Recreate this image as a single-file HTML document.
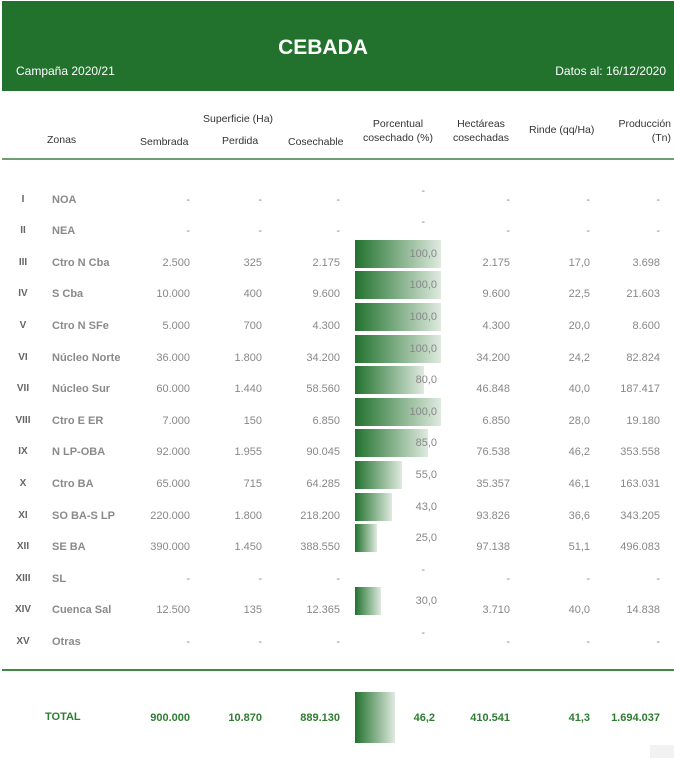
<!DOCTYPE html>
<html><head><meta charset="utf-8"><style>
*{margin:0;padding:0;box-sizing:border-box}
body{width:674px;height:758px;background:#fff;position:relative;overflow:hidden;font-family:"Liberation Sans",Arial,sans-serif;}
.hd{position:absolute;left:2px;top:1px;width:672px;height:90px;background:#22722e;color:#fff}
.t{position:absolute;white-space:nowrap;font-size:11px;color:#888;line-height:12px}
.r{text-align:right}
.c{text-align:center}
.h{color:#333;font-size:10.5px}
.bar{position:absolute;left:355px;height:28px;background:linear-gradient(to right,#22722e,#dfeadf)}
.g{color:#2e7d32;font-weight:bold}
</style></head><body>
<div class="hd">
<div style="position:absolute;left:0;width:642px;top:35px;text-align:center;font-size:21px;font-weight:bold">CEBADA</div>
<div style="position:absolute;left:14px;top:63px;font-size:12px">Campaña 2020/21</div>
<div style="position:absolute;right:8px;top:63px;font-size:12px">Datos al: 16/12/2020</div>
</div>
<div class="t h" style="left:47px;top:134px">Zonas</div>
<div class="t h" style="left:203px;top:113px">Superficie (Ha)</div>
<div class="t h" style="left:140px;top:136px">Sembrada</div>
<div class="t h" style="left:222px;top:135px">Perdida</div>
<div class="t h" style="left:288px;top:136px">Cosechable</div>
<div class="t h c" style="left:355px;width:86px;top:117px;line-height:14px">Porcentual<br>cosechado (%)</div>
<div class="t h c" style="left:448px;width:66px;top:117px;line-height:14px">Hectáreas<br>cosechadas</div>
<div class="t h" style="left:529px;top:124px">Rinde (qq/Ha)</div>
<div class="t h r" style="right:3px;top:117px;line-height:14px">Producción<br>(Tn)</div>
<div style="position:absolute;left:2px;top:158px;width:672px;height:2px;background:#6f9e72"></div>
<div style="position:absolute;left:2px;top:669px;width:672px;height:1.5px;background:#3e8a45"></div>
<div id="rows"></div>
<div class="bar" style="top:692px;height:51px;width:40px"></div>
<div class="t g" style="left:45px;top:711px">TOTAL</div>
<div class="t g r" style="right:484px;top:712px">900.000</div>
<div class="t g r" style="right:412px;top:712px">10.870</div>
<div class="t g r" style="right:334px;top:712px">889.130</div>
<div class="t g r" style="right:239px;top:712px">46,2</div>
<div class="t g r" style="right:164px;top:712px">410.541</div>
<div class="t g r" style="right:84px;top:712px">41,3</div>
<div class="t g r" style="right:14px;top:712px">1.694.037</div>
<div style="position:absolute;left:650px;top:745px;width:24px;height:13px;background:#f2f2f2"></div>
<script>
var d=[["I","NOA","-","-","-",null,"-","-","-"],["II","NEA","-","-","-",null,"-","-","-"],
["III","Ctro N Cba","2.500","325","2.175",100,"2.175","17,0","3.698"],
["IV","S Cba","10.000","400","9.600",100,"9.600","22,5","21.603"],
["V","Ctro N SFe","5.000","700","4.300",100,"4.300","20,0","8.600"],
["VI","Núcleo Norte","36.000","1.800","34.200",100,"34.200","24,2","82.824"],
["VII","Núcleo Sur","60.000","1.440","58.560",80,"46.848","40,0","187.417"],
["VIII","Ctro E ER","7.000","150","6.850",100,"6.850","28,0","19.180"],
["IX","N LP-OBA","92.000","1.955","90.045",85,"76.538","46,2","353.558"],
["X","Ctro BA","65.000","715","64.285",55,"35.357","46,1","163.031"],
["XI","SO BA-S LP","220.000","1.800","218.200",43,"93.826","36,6","343.205"],
["XII","SE BA","390.000","1.450","388.550",25,"97.138","51,1","496.083"],
["XIII","SL","-","-","-",null,"-","-","-"],
["XIV","Cuenca Sal","12.500","135","12.365",30,"3.710","40,0","14.838"],
["XV","Otras","-","-","-",null,"-","-","-"]];
var h="";
d.forEach(function(r,i){var y=199.5+i*31.6;var ty=y-6;
h+='<div class="t c" style="left:8px;width:30px;top:'+ty+'px;color:#666;font-weight:bold;font-size:10px">'+r[0]+'</div>';
h+='<div class="t" style="left:52px;top:'+ty+'px;font-weight:bold;color:#8a8a8a">'+r[1]+'</div>';
var rs=[[484,r[2]],[412,r[3]],[334,r[4]],[164,r[6]],[84,r[7]],[14,r[8]]];
rs.forEach(function(c){h+='<div class="t r" style="right:'+c[0]+'px;top:'+ty+'px">'+c[1]+'</div>';});
if(r[5]!==null){h+='<div class="bar" style="top:'+(y-23)+'px;width:'+(r[5]*0.86)+'px"></div>';
h+='<div class="t r" style="right:237px;top:'+(y-15)+'px">'+r[5]+',0</div>';}
else h+='<div class="t r" style="right:249px;top:'+(y-15)+'px">-</div>';
});
document.getElementById("rows").innerHTML=h;
</script>
</body></html>
